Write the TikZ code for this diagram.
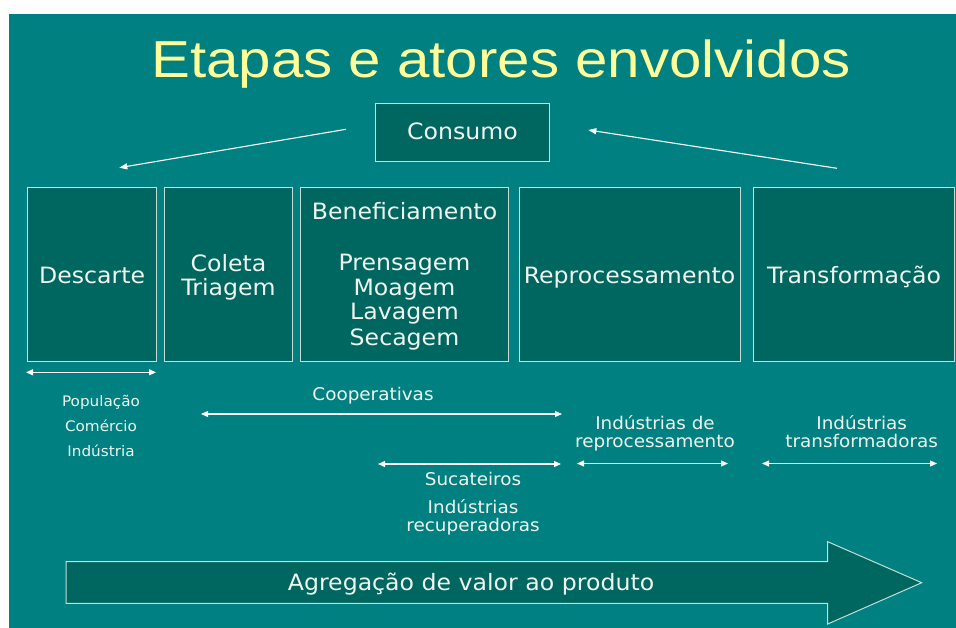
\documentclass[tikz,border=0pt]{standalone}
\usepackage{fontspec}
\setmainfont{DejaVu Sans}[FakeStretch=1.05]
\newfontfamily\titlefont{Liberation Sans}[FakeStretch=1.12]
\usetikzlibrary{arrows.meta}
\definecolor{bgteal}{RGB}{0,128,128}
\definecolor{boxfill}{RGB}{0,102,96}
\definecolor{boxline}{RGB}{196,222,214}
\definecolor{txt}{RGB}{240,245,240}
\definecolor{titlecol}{RGB}{255,255,153}
\tikzset{
  stagebox/.style={draw=boxline, line width=1pt, fill=boxfill, inner sep=0pt},
  bigtxt/.style={text=txt, font=\fontsize{22.5}{24.5}\selectfont, anchor=base, inner sep=0pt},
  smalltxt/.style={text=txt, font=\fontsize{14.5}{18.5}\selectfont, anchor=base, inner sep=0pt},
  midtxt/.style={text=txt, font=\fontsize{17.5}{20}\selectfont, anchor=base, inner sep=0pt},
  tiparrow/.style={draw=white, line width=1.1pt, {Triangle[length=7pt,width=6pt]}-{Triangle[length=7pt,width=6pt]}},
  onearrow/.style={draw=white, line width=1.1pt, -{Triangle[length=8pt,width=6pt]}},
}
\begin{document}
\begin{tikzpicture}[x=1pt,y=-1pt]
\useasboundingbox (0,0) rectangle (956,628);
\fill[white] (0,0) rectangle (956,628);
\fill[bgteal] (9,14) rectangle (956,628);

% title
\node[anchor=base, inner sep=0pt, text=titlecol, font=\titlefont\fontsize{52}{56}\selectfont] (title) at (501,77.5) {Etapas e atores envolvidos};

% consumo
\node[stagebox, minimum width=174pt, minimum height=58.4pt] (consumo) at (462.5,132.5) {};
\node[bigtxt] (consumotxt) at (462.5,140) {Consumo};

% stage boxes
\node[stagebox, minimum width=129pt, minimum height=173.3pt] (descarte) at (92.2,274.35) {};
\node[stagebox, minimum width=128.7pt, minimum height=173.3pt] (coleta) at (228.35,274.35) {};
\node[stagebox, minimum width=208.3pt, minimum height=173.3pt] (benef) at (404.15,274.35) {};
\node[stagebox, minimum width=221pt, minimum height=173.3pt] (reproc) at (629.5,274.35) {};
\node[stagebox, minimum width=201pt, minimum height=173.3pt] (transf) at (853.5,274.35) {};

\node[bigtxt] (t1) at (92.2,283.3) {Descarte};
\node[bigtxt] (t2a) at (228.5,271.3) {Coleta};
\node[bigtxt] (t2b) at (228.5,295.3) {Triagem};
\node[bigtxt] (t3a) at (404.5,220) {Beneficiamento};
\node[bigtxt] (t3b) at (404.5,271) {Prensagem};
\node[bigtxt] (t3c) at (404.5,295.5) {Moagem};
\node[bigtxt] (t3d) at (404.5,320) {Lavagem};
\node[bigtxt] (t3e) at (404.5,345) {Secagem};
\node[bigtxt] (t4) at (629.5,283.3) {Reprocessamento};
\node[bigtxt] (t5) at (854,283.3) {Transformação};

% diagonal arrows
\coordinate (dl1) at (346,129.3);
\coordinate (dl2) at (119.3,167.7);
\coordinate (dr1) at (837,168.3);
\coordinate (dr2) at (588.3,130);
\draw[onearrow] (dl1) -- (dl2);
\draw[onearrow] (dr1) -- (dr2);

% actor range arrows
\coordinate (a1l) at (26,372.3);
\coordinate (a1r) at (156,372.3);
\coordinate (a2l) at (201,414);
\coordinate (a2r) at (562,414);
\coordinate (a3l) at (378,464);
\coordinate (a3r) at (561,464);
\coordinate (a4l) at (577,463.5);
\coordinate (a4r) at (728,463.5);
\coordinate (a5l) at (762,463.5);
\coordinate (a5r) at (937,463.5);
\draw[tiparrow] (a1l) -- (a1r);
\draw[tiparrow] (a2l) -- (a2r);
\draw[tiparrow] (a3l) -- (a3r);
\draw[tiparrow] (a4l) -- (a4r);
\draw[tiparrow] (a5l) -- (a5r);

% actor labels
\node[smalltxt] (pop) at (101,406) {População};
\node[smalltxt] (com) at (101,431.5) {Comércio};
\node[smalltxt] (ind) at (101,456) {Indústria};
\node[midtxt] (coop) at (373,400.5) {Cooperativas};
\node[midtxt] (ir1) at (655,429.3) {Indústrias de};
\node[midtxt] (ir2) at (655,447.3) {reprocessamento};
\node[midtxt] (it1) at (861.7,429.3) {Indústrias};
\node[midtxt] (it2) at (861.7,447.3) {transformadoras};
\node[midtxt] (suc) at (473,485) {Sucateiros};
\node[midtxt] (irc1) at (473,513.3) {Indústrias};
\node[midtxt] (irc2) at (473,531.7) {recuperadoras};

% big value arrow
\draw[boxline, line width=1pt, fill=boxfill, line join=miter]
  (66,561.7) -- (827.7,561.7) -- (827.7,541.7) -- (921.7,582.7)
  -- (827.7,624) -- (827.7,603.3) -- (66,603.3) -- cycle;
\node[bigtxt] (valor) at (471,590) {Agregação de valor ao produto};
\end{tikzpicture}
\end{document}
